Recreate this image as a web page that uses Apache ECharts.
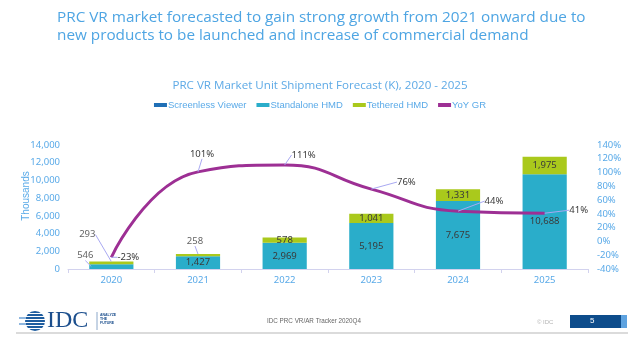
<!DOCTYPE html>
<html>
<head>
<meta charset="utf-8">
<script src="https://cdn.jsdelivr.net/npm/echarts@6/dist/echarts.min.js"></script>
<style>
html,body{margin:0;padding:0;background:#fff;}
#c{width:640px;height:340px;}
</style>
</head>
<body>
<div id="c"></div>
<script>
// ---- data ----
const categories = ['2020', '2021', '2022', '2023', '2024', '2025'];
const screenlessViewer = [0, 0, 0, 0, 0, 0];
const standaloneHMD = [546, 1427, 2969, 5195, 7675, 10688];
const tetheredHMD = [293, 258, 578, 1041, 1331, 1975];
const yoyGR = [-23, 101, 111, 76, 44, 41];
const seriesNames = ['Screenless Viewer', 'Standalone HMD', 'Tethered HMD', 'YoY GR'];

// ---- label placement (style only: pixel shift of a label from its anchor) ----
const lineLabelShift = [[17, 0], [4, -18], [19, -10], [35, -7], [36, -10], [34, -3]];
// bar segments whose value label sits outside the bar with a leader line
const outsideStandalone = [true, false, false, false, false, false];
const outsideTethered = [true, true, false, false, false, false];

const blueText = '#5aaae8';
const labelColor = '#3a3a3a';
const leaderStyle = { color: '#a9a9f2', width: 1 };
const fmtNum = v => Number(v).toLocaleString('en-US');

function shiftLayout(shifts) {
  return function (p) {
    const s = shifts[p.dataIndex];
    if (!s) return {};
    const cx = p.rect.x + p.rect.width / 2;
    const cy = p.rect.y + p.rect.height / 2;
    return { x: cx + s[0], y: cy + s[1], align: 'center', verticalAlign: 'middle' };
  };
}
function barItems(values, outside) {
  return values.map((v, i) => outside[i] ? { value: v, label: { show: false } } : v);
}

// anchors for the outside bar labels, derived from the stacked values
const outsideAnchors = [];
const outsideShift = [];
const outsideOffset = [];
categories.forEach((c, i) => {
  if (outsideStandalone[i]) {
    outsideAnchors.push([c, screenlessViewer[i] + standaloneHMD[i] / 2, standaloneHMD[i]]);
    outsideShift.push([-6, -11]);
    outsideOffset.push([-20, 0]);
  }
  if (outsideTethered[i]) {
    outsideAnchors.push([c, screenlessViewer[i] + standaloneHMD[i] + tetheredHMD[i], tetheredHMD[i]]);
    outsideShift.push(i === 0 ? [-24, -27] : [-3, -13]);
    outsideOffset.push([0, 0]);
  }
});

const chart = echarts.init(document.getElementById('c'), null, { renderer: 'canvas' });

const option = {
  animation: false,
  backgroundColor: '#ffffff',
  textStyle: { fontFamily: 'Noto Sans' },
  title: [
    {
      text: 'PRC VR market forecasted to gain strong growth from 2021 onward due to\nnew products to be launched and increase of commercial demand',
      left: 52, top: 4,
      textStyle: { fontFamily: 'Open Sans', fontSize: 15.3, fontWeight: 'normal', color: '#4ea5e3', lineHeight: 18 }
    },
    {
      text: 'PRC VR Market Unit Shipment Forecast (K), 2020 - 2025',
      left: 'center', top: 75,
      textStyle: { fontFamily: 'Open Sans', fontSize: 11.6, fontWeight: 'normal', color: '#5eaae6' }
    }
  ],
  legend: {
    top: 95, left: 'center',
    data: seriesNames,
    icon: 'rect', itemWidth: 13, itemHeight: 4, itemGap: 10,
    textStyle: { color: blueText, fontSize: 9.5, fontFamily: 'Liberation Sans', padding: [0, 0, 0, -4] }
  },
  grid: { left: 68, right: 52, top: 145, bottom: 71 },
  xAxis: {
    type: 'category',
    data: categories,
    axisLine: { lineStyle: { color: '#d2d2ee', width: 1 } },
    axisTick: { show: true, length: 4, lineStyle: { color: '#d2d2ee' } },
    axisLabel: { color: blueText, fontSize: 9.5, margin: 6 }
  },
  yAxis: [
    {
      type: 'value', min: 0, max: 14000, interval: 2000,
      name: 'Thousands', nameLocation: 'middle', nameGap: 37, nameRotate: 90,
      nameMoveOverlap: false,
      nameTextStyle: { color: blueText, fontSize: 10, fontFamily: 'Liberation Sans', padding: [0, 0, 0, 22] },
      axisLine: { show: false }, axisTick: { show: false }, splitLine: { show: false },
      axisLabel: { color: blueText, fontSize: 9.5, margin: 8, formatter: v => fmtNum(v) }
    },
    {
      type: 'value', min: -40, max: 140, interval: 20,
      axisLine: { show: false }, axisTick: { show: false }, splitLine: { show: false },
      axisLabel: { color: blueText, fontSize: 9.5, margin: 9, formatter: '{value}%' }
    }
  ],
  series: [
    {
      name: seriesNames[0], type: 'bar', stack: 'vr', data: screenlessViewer,
      barCategoryGap: '49%',
      itemStyle: { color: '#1f6fb6' },
      label: { show: false }
    },
    {
      name: seriesNames[1], type: 'bar', stack: 'vr', data: barItems(standaloneHMD, outsideStandalone),
      barCategoryGap: '49%',
      itemStyle: { color: '#2aadca' },
      label: { show: true, position: 'inside', color: labelColor, fontSize: 9.5, formatter: p => fmtNum(p.value) }
    },
    {
      name: seriesNames[2], type: 'bar', stack: 'vr', data: barItems(tetheredHMD, outsideTethered),
      barCategoryGap: '49%',
      itemStyle: { color: '#aac91c' },
      label: { show: true, position: 'inside', color: labelColor, fontSize: 9.5, formatter: p => fmtNum(p.value) }
    },
    {
      name: 'bar labels', type: 'scatter', z: 6,
      data: outsideAnchors.map((d, i) => ({ value: d, symbolOffset: outsideOffset[i] })),
      symbol: 'circle', symbolSize: 0.1,
      itemStyle: { color: 'rgba(0,0,0,0)' },
      silent: true,
      label: { show: true, position: 'inside', color: labelColor, fontSize: 9.5, formatter: p => fmtNum(p.value[2]) },
      labelLine: { show: true, lineStyle: leaderStyle },
      labelLayout: shiftLayout(outsideShift)
    },
    {
      name: seriesNames[3], type: 'line', yAxisIndex: 1, data: yoyGR,
      smooth: 0.5, z: 5,
      symbol: 'circle', symbolSize: 0.1, showSymbol: true,
      lineStyle: { color: '#9d2f94', width: 3 },
      itemStyle: { color: '#9d2f94' },
      label: { show: true, position: 'inside', color: labelColor, fontSize: 9.5, formatter: '{c}%' },
      labelLine: { show: true, lineStyle: leaderStyle },
      labelLayout: shiftLayout(lineLabelShift)
    }
  ],
  graphic: [
    // footer rule
    { type: 'line', shape: { x1: 16, y1: 333, x2: 628, y2: 333 }, style: { stroke: '#cfcfcf', lineWidth: 1.5 } },
    // IDC globe logo
    { type: 'circle', shape: { cx: 35, cy: 321, r: 10 }, style: { fill: '#1e5d9f' } },
    { type: 'group', children: [
      { type: 'rect', shape: { x: 22, y: 313, width: 26, height: 1 }, style: { fill: '#ffffff' } },
      { type: 'rect', shape: { x: 22, y: 316, width: 26, height: 1 }, style: { fill: '#ffffff' } },
      { type: 'rect', shape: { x: 22, y: 319, width: 26, height: 1 }, style: { fill: '#ffffff' } },
      { type: 'rect', shape: { x: 22, y: 322, width: 26, height: 1 }, style: { fill: '#ffffff' } },
      { type: 'rect', shape: { x: 22, y: 325, width: 26, height: 1 }, style: { fill: '#ffffff' } },
      { type: 'rect', shape: { x: 22, y: 328, width: 26, height: 1 }, style: { fill: '#ffffff' } },
      { type: 'rect', shape: { x: 19, y: 317, width: 7, height: 2 }, style: { fill: '#8fb7df' } },
      { type: 'rect', shape: { x: 19, y: 323, width: 7, height: 2 }, style: { fill: '#8fb7df' } }
    ]},
    { type: 'text', left: 47, top: 309, style: { text: 'IDC', font: '24px "Liberation Serif"', fill: '#1c4f8d' } },
    { type: 'line', shape: { x1: 97, y1: 312, x2: 97, y2: 330 }, style: { stroke: '#6f93bd', lineWidth: 0.8 } },
    { type: 'text', left: 100, top: 313, style: { text: 'ANALYZE\nTHE\nFUTURE', font: 'bold 3.5px "Liberation Sans"', fill: '#1c4f8d', lineHeight: 4 } },
    // footer captions
    { type: 'text', left: 267, top: 318, style: { text: 'IDC PRC VR/AR Tracker 2020Q4', font: '6.3px "Liberation Sans"', fill: '#666666' } },
    { type: 'text', left: 537, top: 319, style: { text: '© IDC', font: '6px "Liberation Sans"', fill: '#b5b5b5' } },
    { type: 'rect', shape: { x: 570, y: 315, width: 51, height: 13 }, style: { fill: '#0d4c8b' } },
    { type: 'rect', shape: { x: 621, y: 315, width: 6, height: 13 }, style: { fill: '#5ea3e0' } },
    { type: 'text', left: 590, top: 317, style: { text: '5', font: '8px "Liberation Sans"', fill: '#ffffff' } }
  ]
};

chart.setOption(option);
</script>
</body>
</html>
